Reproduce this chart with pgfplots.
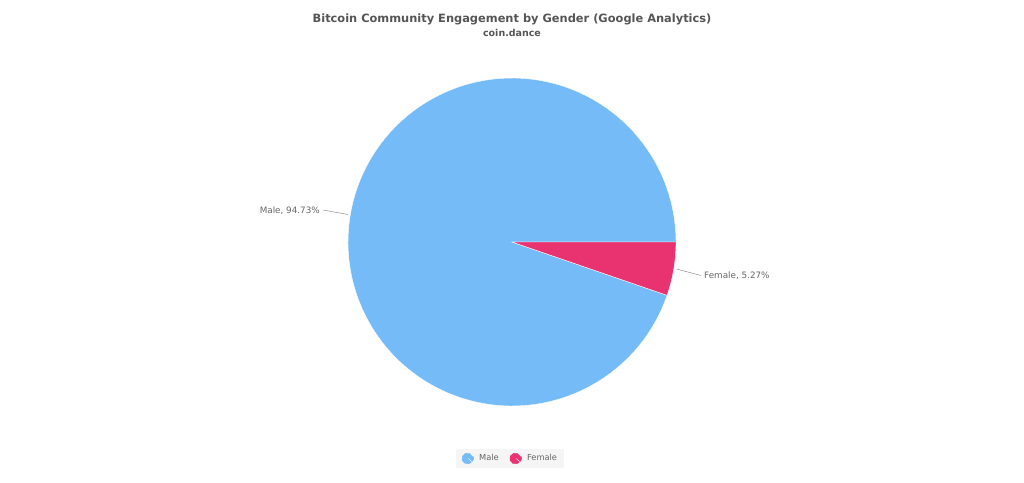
\documentclass[border=0pt]{standalone}
\usepackage{pgfplots}
\pgfplotsset{compat=1.18}
\usepackage{pgfplotstable}
\usepackage{fontspec}
\setmainfont{DejaVu Sans}
\definecolor{malecol}{RGB}{116,187,247}
\definecolor{femalecol}{RGB}{233,51,112}
\definecolor{txt}{RGB}{85,85,85}
\definecolor{lbl}{RGB}{102,102,102}
\pgfplotstableread{
label value
Male 94.73
Female 5.27
}\piedata
\pgfplotstablegetelem{0}{value}\of\piedata \let\maleval\pgfplotsretval
\pgfplotstablegetelem{1}{value}\of\piedata \let\femaleval\pgfplotsretval
\pgfmathsetmacro{\femaleang}{\femaleval*3.6}
\begin{document}
\begin{tikzpicture}
\begin{axis}[
  at={(0,0)}, anchor=south west,
  scale only axis, width=1024bp, height=483bp,
  xmin=0, xmax=1024, ymin=0, ymax=483, y dir=reverse,
  hide axis, clip=false,
  legend style={at={(axis cs:510,458.5)}, anchor=center, draw=none, fill=black!4,
    font=\fontsize{8.3bp}{10bp}\selectfont\color{lbl}, legend columns=2,
    inner xsep=5bp, inner ysep=3.5bp,
    /tikz/every odd column/.append style={column sep=3bp},
    /tikz/every even column/.append style={column sep=8bp}},
  legend cell align=left,
]
\addplot[forget plot, draw=white, line width=0.4pt, fill=malecol, domain=\femaleang:360, samples=120]
  ({512+164*cos(x)},{242+164*sin(x)}) -- (axis cs:512,242) -- cycle;
\addplot[forget plot, draw=white, line width=0.4pt, fill=femalecol, domain=0:\femaleang, samples=20]
  ({512+164*cos(x)},{242+164*sin(x)}) -- (axis cs:512,242) -- cycle;
\addlegendimage{legend image code/.code={
  \fill[malecol] (0.55em,0em) -- ++(20:0.55em) arc (20:320:0.55em) -- cycle;
  \fill[malecol] (0.65em,0.08em) -- ++(-40:0.55em) arc (-40:10:0.55em) -- cycle;}}
\addlegendentry{Male}
\addlegendimage{legend image code/.code={
  \fill[femalecol] (0.55em,0em) -- ++(20:0.55em) arc (20:320:0.55em) -- cycle;
  \fill[femalecol] (0.65em,0.08em) -- ++(-40:0.55em) arc (-40:10:0.55em) -- cycle;}}
\addlegendentry{Female}
\node[font=\bfseries\fontsize{11.4bp}{13bp}\selectfont, text=txt] at (axis cs:512,19) {Bitcoin Community Engagement by Gender (Google Analytics)};
\node[font=\bfseries\fontsize{9.5bp}{11bp}\selectfont, text=txt] at (axis cs:512,33) {coin.dance};
\draw[black!45, line width=0.5pt] (axis cs:323,210) -- (axis cs:348,214.5);
\node[anchor=east, font=\fontsize{8.8bp}{10bp}\selectfont, text=lbl, inner sep=1bp] at (axis cs:321,211) {Male, \maleval\%};
\draw[black!45, line width=0.5pt] (axis cs:676.5,269) -- (axis cs:701,275.5);
\node[anchor=west, font=\fontsize{8.8bp}{10bp}\selectfont, text=lbl, inner sep=1bp] at (axis cs:703,276) {Female, \femaleval\%};
\end{axis}
\pgfresetboundingbox
\path (0,0) rectangle (1024bp,483bp);
\end{tikzpicture}
\end{document}
